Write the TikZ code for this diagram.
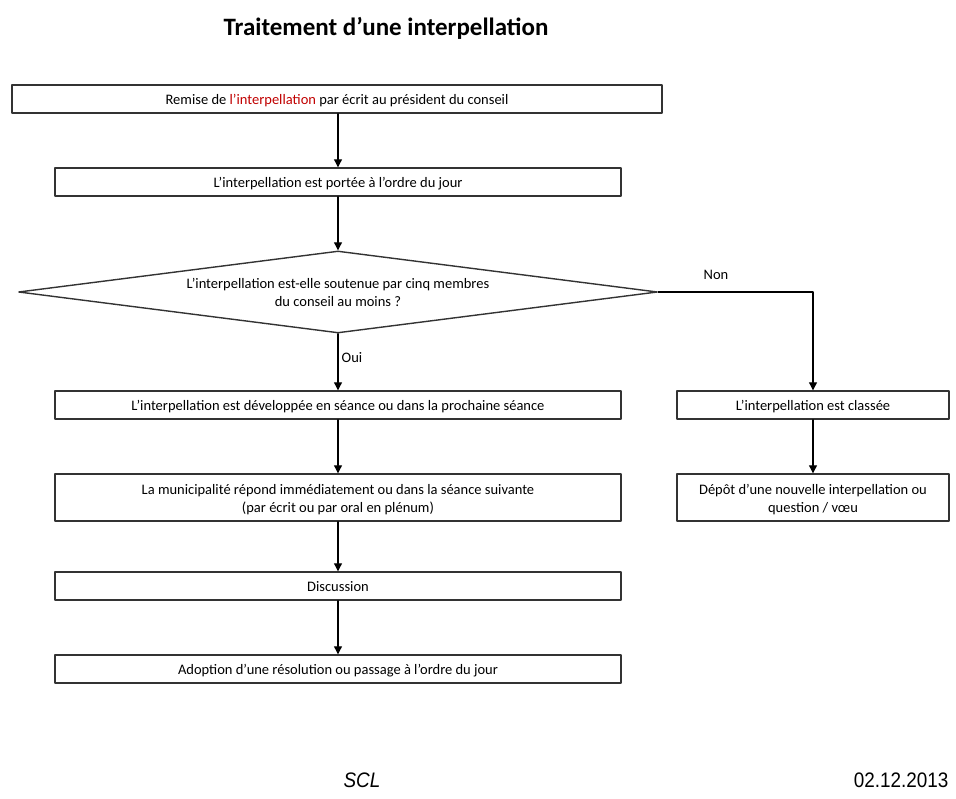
\documentclass[tikz,border=0pt]{standalone}
\usepackage{fontspec}
\setmainfont{Carlito}
\newfontfamily\arialfont{Liberation Sans}[FakeStretch=0.9]
\usetikzlibrary{arrows.meta,shapes.geometric}
\definecolor{rouge}{RGB}{192,0,0}
\begin{document}
\begin{tikzpicture}[x=1pt,y=-1pt,line cap=round,line join=round,
		box/.style={draw=black!80,line width=1.4pt,rectangle,minimum width=566pt,minimum height=28pt,inner sep=0pt,align=center,text height=14pt,text depth=3pt,font=\fontsize{14.5}{18}\selectfont},
		double box/.style={box,minimum height=47pt,text height=32pt},
		small box/.style={minimum width=272pt},
		question/.style={draw=black!80,line width=1.4pt,diamond,aspect=7.8,minimum width=639pt,minimum height=82pt,inner sep=0pt,align=center,font=\fontsize{14.5}{18}\selectfont},
		fleche/.style={line width=1.1pt,-{Triangle[length=8pt,width=8pt]}},
		etiquette/.style={font=\fontsize{14.5}{18}\selectfont}]
	\useasboundingbox (0,0) rectangle (956,799);
	\node[font=\fontsize{25}{30}\selectfont\bfseries] (titre) at (386,28) {Traitement d’une interpellation};
	\node[box,minimum width=650pt] (remise) at (337,99) {Remise de \textcolor{rouge}{l’interpellation} par écrit au président du conseil};
	\node[box] (ordre) at (338,182) {L’interpellation est portée à l’ordre du jour};
	\node[question] (soutien) at (338,292) {L’interpellation est-elle soutenue par cinq membres\\du conseil au moins ?};
	\node[box] (devel) at (338,405) {L’interpellation est développée en séance ou dans la prochaine séance};
	\node[double box] (reponse) at (338,497.5) {La municipalité répond immédiatement ou dans la séance suivante\\(par écrit ou par oral en plénum)};
	\node[box] (discussion) at (338,586) {Discussion};
	\node[box] (adoption) at (338,669) {Adoption d’une résolution ou passage à l’ordre du jour};
	\node[box,small box] (classee) at (813,405) {L’interpellation est classée};
	\node[double box,small box] (depot) at (813,497.5) {Dépôt d’une nouvelle interpellation ou\\question / vœu};
	\node[etiquette] (non) at (716,275) {Non};
	\node[etiquette] (oui) at (352,358) {Oui};
	\node[font=\arialfont\itshape\fontsize{21}{24}\selectfont] (scl) at (362,780) {SCL};
	\node[font=\arialfont\fontsize{21}{24}\selectfont,anchor=east] (date) at (952,780) {02.12.2013};
	\draw[fleche] (remise.south -| ordre.north) -- (ordre);
	\draw[fleche] (ordre) -- (soutien);
	\draw[fleche] (soutien) -- (devel);
	\draw[fleche] (soutien.east) -| (classee);
	\draw[fleche] (devel) -- (reponse);
	\draw[fleche] (reponse) -- (discussion);
	\draw[fleche] (discussion) -- (adoption);
	\draw[fleche] (classee) -- (depot);
\end{tikzpicture}
\end{document}
